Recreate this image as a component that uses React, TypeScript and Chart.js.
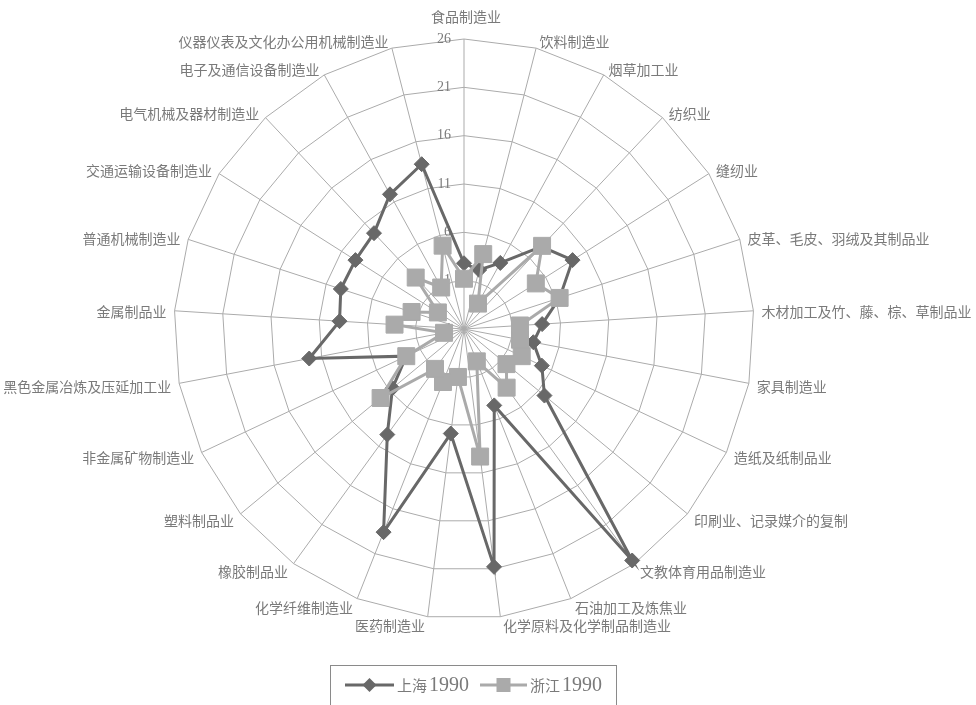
import React, { useEffect, useRef } from 'react';
import { Chart, registerables } from 'chart.js';

Chart.register(...registerables);

// Industry categories, clockwise from the top spoke
const categories = [
  '食品制造业',
  '饮料制造业',
  '烟草加工业',
  '纺织业',
  '缝纫业',
  '皮革、毛皮、羽绒及其制品业',
  '木材加工及竹、藤、棕、草制品业',
  '家具制造业',
  '造纸及纸制品业',
  '印刷业、记录媒介的复制',
  '文教体育用品制造业',
  '石油加工及炼焦业',
  '化学原料及化学制品制造业',
  '医药制造业',
  '化学纤维制造业',
  '橡胶制品业',
  '塑料制品业',
  '非金属矿物制造业',
  '黑色金属冶炼及压延加工业',
  '金属制品业',
  '普通机械制造业',
  '交通运输设备制造业',
  '电气机械及器材制造业',
  '电子及通信设备制造业',
  '仪器仪表及文化办公用机械制造业',
];

const shanghai1990 = [
  2.8, 2.3, 3.8, 7.7, 9.3, 6.4, 4.1, 3.3, 4.9, 6.8, 25.6, 4.5, 20.8,
  6.9, 18.6, 9.5, 5.6, 2.6, 12.3, 8.9, 9.4, 9.3, 9.6, 11.9, 13.6,
];

const zhejiang1990 = [
  1.2, 4.0, -1.0, 7.8, 4.8, 6.4, 1.8, 1.9, 2.6, 1.7, 3.5, -0.4, 9.3,
  1.0, 1.9, 1.1, 7.2, 2.6, -1.9, 3.2, 1.7, -0.8, 3.3, 0.9, 4.9,
];

const seriesNames = ['上海', '浙江'];
const seriesYear = '1990';

const axisMin = -4;
const axisMax = 26;
const axisStep = 5;

const SH_COLOR = '#686868';
const ZJ_COLOR = '#aaaaaa';
const GRID_COLOR = '#ababab';
const TEXT_COLOR = '#7a7a7a';
const CJK_FONT = '"Noto Sans CJK SC", "Noto Sans", sans-serif';
const SERIF_FONT = '"Liberation Serif", "DejaVu Serif", serif';

function drawDiamond(ctx: CanvasRenderingContext2D, x: number, y: number, r: number) {
  ctx.beginPath();
  ctx.moveTo(x - r, y);
  ctx.lineTo(x, y - r);
  ctx.lineTo(x + r, y);
  ctx.lineTo(x, y + r);
  ctx.closePath();
  ctx.fill();
}

const radarDecor = {
  id: 'radarDecor',
  beforeDatasetsDraw(chart: any) {
    const scale = chart.scales.r;
    const ctx: CanvasRenderingContext2D = chart.ctx;
    ctx.save();
    ctx.font = `14px ${SERIF_FONT}`;
    ctx.fillStyle = TEXT_COLOR;
    ctx.textAlign = 'right';
    ctx.textBaseline = 'middle';
    scale.ticks.forEach((t: any) => {
      const d = scale.getDistanceFromCenterForValue(t.value);
      ctx.fillText(String(t.value), scale.xCenter - 13, scale.yCenter - d);
    });
    ctx.restore();
  },
  afterDraw(chart: any) {
    const scale = chart.scales.r;
    const ctx: CanvasRenderingContext2D = chart.ctx;
    ctx.save();

    // category labels around the outer ring
    ctx.font = `14px ${CJK_FONT}`;
    ctx.fillStyle = TEXT_COLOR;
    ctx.textBaseline = 'middle';
    categories.forEach((label, i) => {
      const p = scale.getPointPosition(i, scale.drawingArea);
      const s = Math.cos(p.angle); // horizontal component
      const c = -Math.sin(p.angle); // vertical component (up)
      if (Math.abs(s) < 0.05) {
        ctx.textAlign = 'center';
        ctx.fillText(label, p.x + 2, c > 0 ? p.y - 22 : p.y + 14);
        return;
      }
      const dir = s > 0 ? 1 : -1;
      ctx.textAlign = s > 0 ? 'left' : 'right';
      const dx = dir * (2 + 6 * Math.abs(s));
      const dy = -8 * c + 1.5;
      ctx.fillText(label, p.x + dx, p.y + dy);
    });

    // legend
    const top = 665;
    const left = 330;
    const right = 616;
    const midY = 685;
    ctx.strokeStyle = '#8a8a8a';
    ctx.lineWidth = 1;
    ctx.strokeRect(left + 0.5, top + 0.5, right - left, 44);

    const drawEntry = (x0: number, x1: number, color: string, name: string, marker: 'diamond' | 'square') => {
      ctx.strokeStyle = color;
      ctx.fillStyle = color;
      ctx.lineWidth = 3;
      ctx.beginPath();
      ctx.moveTo(x0, midY);
      ctx.lineTo(x1, midY);
      ctx.stroke();
      const mx = (x0 + x1) / 2;
      if (marker === 'diamond') {
        drawDiamond(ctx, mx, midY, 7);
      } else {
        ctx.fillRect(mx - 7, midY - 7, 14, 14);
      }
      ctx.fillStyle = TEXT_COLOR;
      ctx.textAlign = 'left';
      ctx.textBaseline = 'middle';
      ctx.font = `15px ${CJK_FONT}`;
      const tx = x1 + 3;
      ctx.fillText(name, tx, midY);
      const w = ctx.measureText(name).width;
      ctx.font = `20px ${SERIF_FONT}`;
      ctx.fillText(seriesYear, tx + w + 2, midY + 1);
    };
    drawEntry(345, 394, SH_COLOR, seriesNames[0], 'diamond');
    drawEntry(480, 527, ZJ_COLOR, seriesNames[1], 'square');

    ctx.restore();
  },
};

export default function App() {
  const canvasRef = useRef<HTMLCanvasElement | null>(null);

  useEffect(() => {
    document.body.style.margin = '0';
    document.body.style.background = '#ffffff';
    const canvas = canvasRef.current;
    if (!canvas) return;

    const chart = new Chart(canvas, {
      type: 'radar',
      data: {
        labels: categories,
        datasets: [
          {
            label: seriesNames[1] + seriesYear,
            data: zhejiang1990,
            borderColor: ZJ_COLOR,
            backgroundColor: ZJ_COLOR,
            borderWidth: 3,
            fill: false,
            pointStyle: 'rect',
            pointRadius: 12,
            pointBorderWidth: 1,
            pointBackgroundColor: ZJ_COLOR,
            pointBorderColor: ZJ_COLOR,
            order: 0,
          },
          {
            label: seriesNames[0] + seriesYear,
            data: shanghai1990,
            borderColor: SH_COLOR,
            backgroundColor: SH_COLOR,
            borderWidth: 3,
            fill: false,
            pointStyle: 'rectRot',
            pointRadius: 7.5,
            pointBorderWidth: 1,
            pointBackgroundColor: SH_COLOR,
            pointBorderColor: SH_COLOR,
            order: 1,
          },
        ],
      },
      options: {
        responsive: false,
        animation: false,
        layout: { padding: { left: 174, right: 222, top: 39, bottom: 86 } },
        plugins: {
          legend: { display: false },
          tooltip: { enabled: false },
        },
        elements: { line: { tension: 0 } },
        scales: {
          r: {
            min: axisMin,
            max: axisMax,
            startAngle: 0,
            ticks: { display: false, stepSize: axisStep },
            grid: { color: GRID_COLOR, lineWidth: 1, circular: false },
            angleLines: { color: GRID_COLOR, lineWidth: 1 },
            pointLabels: { display: false },
          },
        },
      },
      plugins: [radarDecor],
    });

    return () => chart.destroy();
  }, []);

  return (
    <div style={{ width: 976, height: 705, overflow: 'hidden' }}>
      <canvas ref={canvasRef} width={976} height={705} style={{ display: 'block' }} />
    </div>
  );
}
